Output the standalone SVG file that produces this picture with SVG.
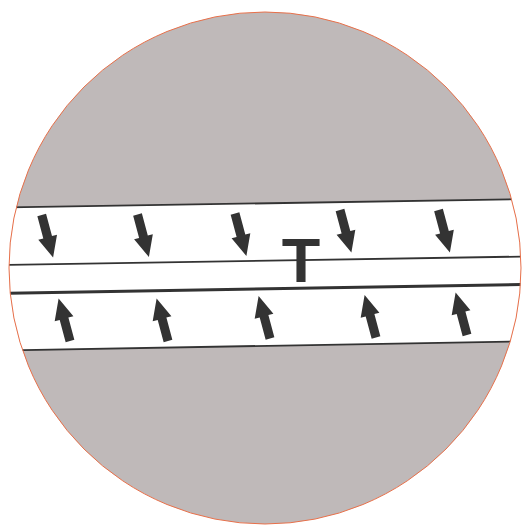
<svg xmlns="http://www.w3.org/2000/svg" width="526" height="528" viewBox="0 0 526 528">
  <style>
    .ln { stroke: #333333; stroke-width: 1.8; fill: none; }
    .thick { stroke-width: 3; }
    .arr { fill: #333333; }
  </style>
  <defs>
    <clipPath id="disc">
      <circle cx="265" cy="268" r="256"/>
    </clipPath>
    <path id="arrow" class="arr" d="M -4.5 0 L 4.5 0 L 4.5 23 L 9.7 23 L 0 44 L -9.7 23 L -4.5 23 Z"/>
  </defs>
  <g id="disc-body">
    <circle cx="265" cy="268" r="256" fill="#bfb9b9"/>
    <g clip-path="url(#disc)">
      <polygon points="0,207.6 526,199.1 526,341.3 0,350.5" fill="#ffffff"/>
    </g>
  </g>
  <g id="layers" clip-path="url(#disc)">
    <line class="ln" x1="0" y1="207.6" x2="526" y2="199.1"/>
    <line class="ln" x1="0" y1="265" x2="526" y2="256.5"/>
    <line class="ln thick" x1="0" y1="293.3" x2="526" y2="284.5"/>
    <line class="ln" x1="0" y1="350.5" x2="526" y2="341.3"/>
  </g>
  <g id="down-arrows">
    <use href="#arrow" transform="translate(41.7,215) rotate(-15)"/>
    <use href="#arrow" transform="translate(137.5,214.5) rotate(-15)"/>
    <use href="#arrow" transform="translate(235,213.5) rotate(-15)"/>
    <use href="#arrow" transform="translate(340,210) rotate(-15)"/>
    <use href="#arrow" transform="translate(438.5,210) rotate(-15)"/>
  </g>
  <g id="up-arrows">
    <use href="#arrow" transform="translate(70,341) rotate(165)"/>
    <use href="#arrow" transform="translate(168,341) rotate(165)"/>
    <use href="#arrow" transform="translate(270,338.5) rotate(165)"/>
    <use href="#arrow" transform="translate(376,337.5) rotate(165)"/>
    <use href="#arrow" transform="translate(467,335) rotate(165)"/>
  </g>
  <g id="label-T">
    <text x="301" y="282" text-anchor="middle" font-family="Liberation Sans, Arial, sans-serif" font-weight="bold" font-size="63" fill="#333333">T</text>
  </g>
  <circle id="rim" cx="265" cy="268" r="256" fill="none" stroke="#e8704a" stroke-width="1"/>
</svg>
